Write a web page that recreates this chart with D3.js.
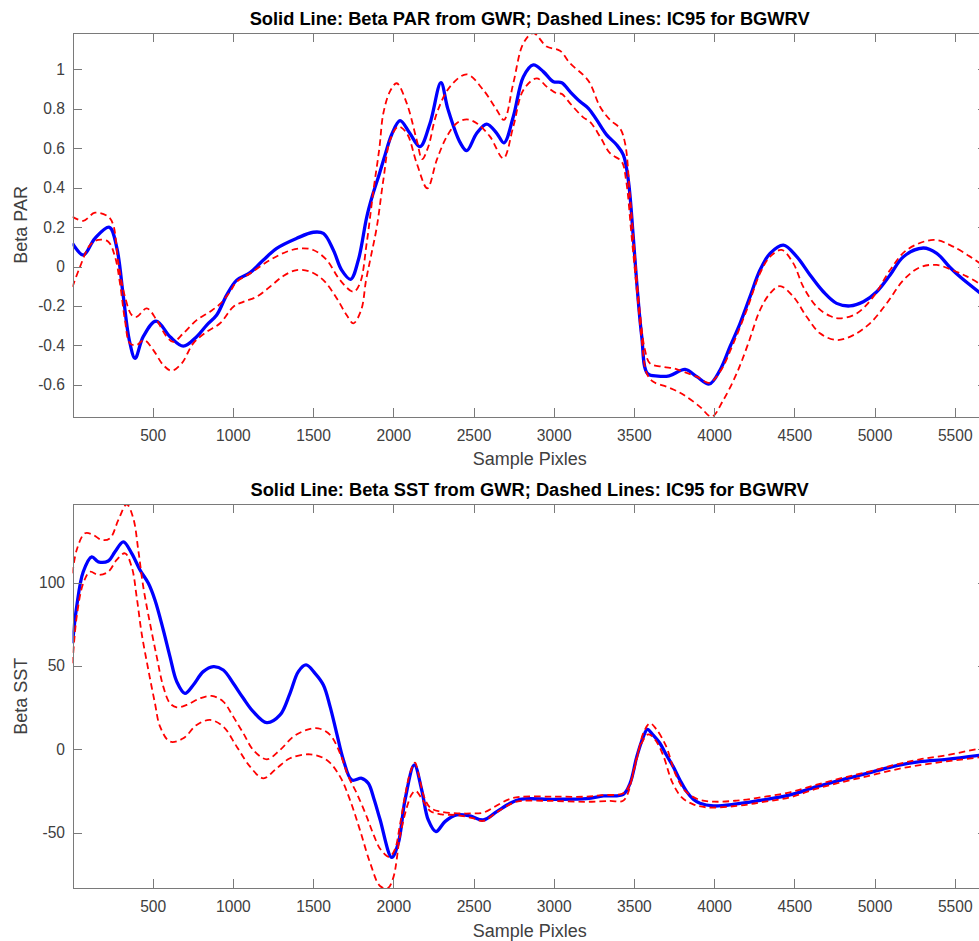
<!DOCTYPE html>
<html>
<head>
<meta charset="utf-8">
<script src="https://cdn.jsdelivr.net/npm/d3@7/dist/d3.min.js"></script>
<style>
  body { margin: 0; background: #fff; }
  text { font-family: "Liberation Sans", Arial, Helvetica, sans-serif; }
  .tick text { fill: #404040; font-size: 15.6px; }
  .axis path, .axis line { stroke: #7a7a7a; stroke-width: 1; shape-rendering: crispEdges; }
  .title { font-weight: bold; font-size: 18.3px; fill: #000; }
  .label { font-size: 18px; fill: #404040; }
</style>
</head>
<body>
<script>
// Two MATLAB style panels: GWR beta (solid) with the BGWRV 95% interval (dashed).

// x = sample pixel, y = value
var parBeta = [[0, 0.118], [67, 0.058], [140, 0.143], [230, 0.199], [275, 0.10], [317, -0.153],
    [354, -0.373], [390, -0.466], [441, -0.356], [521, -0.277], [608, -0.356], [691, -0.404],
    [774, -0.356], [837, -0.297], [899, -0.246], [961, -0.145], [1024, -0.069], [1107, -0.031],
    [1190, 0.033], [1273, 0.092], [1398, 0.143], [1501, 0.174], [1564, 0.168], [1626, 0.084],
    [1678, -0.018], [1734, -0.065], [1782, 0.033], [1834, 0.25], [1870, 0.36], [1913, 0.47],
    [1950, 0.57], [1990, 0.67], [2042, 0.74], [2100, 0.68], [2166, 0.608], [2229, 0.727],
    [2297, 0.933], [2340, 0.80], [2416, 0.63], [2458, 0.588], [2520, 0.676], [2582, 0.723],
    [2645, 0.676], [2690, 0.628], [2748, 0.760], [2811, 0.963], [2873, 1.023], [2935, 0.989],
    [2998, 0.938], [3050, 0.933], [3102, 0.887], [3164, 0.837], [3216, 0.803], [3268, 0.744],
    [3330, 0.668], [3393, 0.617], [3434, 0.566], [3465, 0.439], [3496, 0.151], [3518, -0.085],
    [3549, -0.356], [3584, -0.542], [3650, -0.556], [3720, -0.555], [3819, -0.522], [3892, -0.559],
    [3970, -0.596], [4037, -0.525], [4099, -0.407], [4162, -0.288], [4224, -0.153], [4286, -0.018],
    [4349, 0.067], [4432, 0.109], [4515, 0.050], [4598, -0.043], [4681, -0.128], [4764, -0.187],
    [4847, -0.200], [4930, -0.179], [5014, -0.128], [5097, -0.043], [5180, 0.050], [5304, 0.094],
    [5388, 0.067], [5471, -0.005], [5533, -0.052], [5660, -0.135]];

var parUpper = [[0, 0.253], [67, 0.232], [140, 0.273], [223, 0.253], [254, 0.211], [286, 0.016],
    [327, -0.153], [369, -0.246], [400, -0.255], [463, -0.212], [525, -0.272], [587, -0.356],
    [628, -0.382], [691, -0.339], [774, -0.272], [857, -0.229], [920, -0.190], [982, -0.128],
    [1024, -0.077], [1107, -0.035], [1231, 0.033], [1335, 0.075], [1418, 0.092], [1501, 0.084],
    [1585, 0.033], [1668, -0.069], [1751, -0.128], [1792, -0.085], [1834, 0.118], [1875, 0.38],
    [1913, 0.60], [1938, 0.778], [1980, 0.89], [2021, 0.930], [2084, 0.828], [2146, 0.642],
    [2180, 0.545], [2218, 0.608], [2271, 0.778], [2354, 0.913], [2458, 0.975], [2561, 0.896],
    [2645, 0.794], [2690, 0.744], [2748, 0.930], [2811, 1.133], [2873, 1.185], [2956, 1.116],
    [3039, 1.095], [3102, 1.031], [3184, 0.972], [3226, 0.930], [3289, 0.811], [3351, 0.744],
    [3413, 0.701], [3445, 0.625], [3476, 0.354], [3507, 0.050], [3538, -0.238], [3569, -0.424],
    [3600, -0.491], [3683, -0.509], [3750, -0.517], [3808, -0.534], [3892, -0.559], [3970, -0.590],
    [4037, -0.534], [4120, -0.390], [4203, -0.221], [4286, -0.035], [4349, 0.050], [4421, 0.084],
    [4494, 0.016], [4556, -0.103], [4640, -0.204], [4723, -0.251], [4785, -0.263], [4889, -0.238],
    [4993, -0.153], [5097, -0.018], [5201, 0.084], [5367, 0.135], [5491, 0.101], [5660, 0.015]];

var parLower = [[0, -0.103], [47, -0.001], [109, 0.109], [161, 0.135], [223, 0.126], [265, 0.050],
    [296, -0.085], [327, -0.272], [358, -0.390], [400, -0.398], [446, -0.373], [504, -0.424],
    [566, -0.500], [618, -0.529], [681, -0.491], [753, -0.390], [837, -0.331], [920, -0.288],
    [1003, -0.204], [1065, -0.179], [1148, -0.153], [1231, -0.103], [1314, -0.048], [1398, -0.018],
    [1481, -0.026], [1564, -0.069], [1647, -0.161], [1709, -0.246], [1751, -0.288], [1800, -0.22],
    [1830, -0.07], [1860, 0.05], [1897, 0.20], [1938, 0.44], [1980, 0.642], [2031, 0.710],
    [2084, 0.676], [2146, 0.524], [2212, 0.397], [2271, 0.541], [2333, 0.659], [2395, 0.727],
    [2458, 0.747], [2520, 0.727], [2603, 0.659], [2686, 0.549], [2748, 0.710], [2811, 0.896],
    [2894, 0.955], [2956, 0.913], [3019, 0.879], [3050, 0.876], [3102, 0.828], [3184, 0.757],
    [3226, 0.735], [3289, 0.659], [3351, 0.575], [3424, 0.532], [3451, 0.439], [3486, 0.151],
    [3518, -0.119], [3549, -0.373], [3580, -0.542], [3621, -0.585], [3704, -0.610], [3777, -0.636],
    [3829, -0.661], [3912, -0.712], [3985, -0.762], [4057, -0.678], [4141, -0.542], [4213, -0.390],
    [4286, -0.221], [4349, -0.136], [4411, -0.099], [4494, -0.153], [4577, -0.255], [4660, -0.339],
    [4764, -0.373], [4868, -0.348], [4972, -0.288], [5076, -0.187], [5180, -0.069], [5283, -0.004],
    [5388, 0.008], [5491, -0.020], [5575, -0.050], [5660, -0.090]];

var sstBeta = [[0, 63.6], [26, 85.6], [67, 106.5], [120, 115.5], [161, 112.5], [223, 113],
    [265, 118.5], [317, 124.5], [369, 117.6], [421, 107.6], [473, 99.6], [514, 89.6], [566, 71.6],
    [608, 55.5], [650, 40.6], [701, 33.6], [753, 38.6], [815, 46.6], [878, 49.6], [940, 47.6],
    [1002, 39.6], [1065, 30.6], [1127, 22.6], [1211, 16.0], [1294, 20.6], [1356, 33.6],
    [1408, 46.6], [1456, 50.6], [1512, 45.6], [1564, 38.6], [1606, 25.6], [1647, 9.6],
    [1689, -6.4], [1741, -18.4], [1803, -17.4], [1844, -20.4], [1880, -30], [1917, -42],
    [1990, -64.8], [2031, -56.4], [2073, -30.4], [2131, -9.4], [2177, -24.4], [2218, -42.4],
    [2266, -49.4], [2322, -43.4], [2395, -39.4], [2478, -40.0], [2561, -42.4], [2645, -37.4],
    [2728, -32.4], [2790, -30.0], [2998, -30.0], [3206, -29.6], [3310, -28.0], [3434, -27.0],
    [3476, -20.4], [3518, -4.4], [3559, 7.6], [3584, 12.0], [3620, 8.5], [3662, 3.6], [3700, -3],
    [3745, -10.4], [3790, -19], [3829, -25.4], [3870, -30], [3912, -32.4], [3995, -34],
    [4141, -32.8], [4307, -30.4], [4473, -27.4], [4640, -22.4], [4806, -18.0], [4972, -14.0],
    [5138, -9.8], [5283, -7.4], [5450, -6.0], [5660, -3.5]];

var sstUpper = [[0, 105.6], [26, 119.6], [78, 129.6], [130, 128.6], [182, 125.6], [234, 126.6],
    [286, 137.6], [338, 147], [379, 138.6], [410, 119.6], [441, 97.6], [483, 75.6], [525, 55.6],
    [566, 37.6], [608, 27.6], [650, 25.2], [712, 26.6], [795, 30.6], [868, 32.0], [940, 28.6],
    [1002, 19.6], [1065, 9.6], [1127, -0.4], [1211, -6.0], [1294, -0.4], [1377, 7.6],
    [1460, 11.6], [1532, 12.6], [1606, 8.6], [1668, -2.4], [1720, -16.4], [1772, -26.4],
    [1834, -40.4], [1880, -52], [1920, -60], [1975, -64.5], [2010, -60], [2042, -45], [2073, -28],
    [2105, -14], [2135, -8], [2160, -16], [2190, -28], [2230, -35], [2300, -37.5], [2400, -38.4],
    [2480, -38.5], [2560, -38], [2640, -34], [2720, -30], [2790, -28.5], [3000, -28.4],
    [3200, -28.4], [3300, -27.5], [3430, -26.5], [3470, -22], [3520, -5], [3560, 10], [3600, 15.6],
    [3640, 12], [3700, 2], [3760, -15], [3820, -25], [3900, -30], [4000, -31.4], [4141, -30.8],
    [4307, -28.6], [4473, -25.8], [4640, -21.2], [4806, -17.0], [4972, -13.2], [5138, -9.0],
    [5283, -6.0], [5450, -3.5], [5660, 0.6]];

var sstLower = [[0, 51.6], [26, 79.5], [67, 99.6], [109, 106.5], [161, 104.6], [223, 106.5],
    [275, 113.6], [327, 117.6], [369, 109.5], [400, 91.5], [431, 69.6], [473, 47.6], [514, 27.6],
    [546, 13.6], [608, 4.6], [691, 6.6], [774, 14.6], [857, 17.6], [940, 13.6], [1024, 1.6],
    [1107, -10.4], [1190, -17.4], [1273, -11.4], [1356, -5.4], [1481, -3.0], [1585, -6.4],
    [1668, -16.4], [1730, -30.4], [1792, -48.4], [1855, -68], [1917, -82], [1965, -83.4],
    [2000, -77], [2042, -52], [2084, -35], [2115, -27], [2140, -25], [2180, -30], [2230, -37],
    [2300, -39], [2400, -39.5], [2500, -41.5], [2560, -43], [2650, -37.5], [2750, -32], [2800, -31],
    [3000, -31], [3200, -31.5], [3350, -31], [3430, -31], [3460, -27], [3500, -12], [3540, 2],
    [3590, 9], [3630, 6], [3680, -3], [3740, -20], [3800, -29], [3870, -33], [3950, -34.8],
    [4141, -34], [4307, -31.6], [4473, -28.8], [4640, -23.6], [4806, -19.5], [4972, -15.8],
    [5138, -12], [5283, -9.5], [5450, -7.2], [5660, -4.8]];

var xTicks = [500, 1000, 1500, 2000, 2500, 3000, 3500, 4000, 4500, 5000, 5500];
var parTicks = [-0.6, -0.4, -0.2, 0, 0.2, 0.4, 0.6, 0.8, 1];
var sstTicks = [-50, 0, 50, 100];

var width = 979,
    height = 941,
    left = 72.5,
    right = 986.8,
    tickLen = 9;

var svg = d3.select('body').append('svg')
    .attr('width', width)
    .attr('height', height);

var x = d3.scaleLinear()
    .domain([0, 5700])
    .range([left, right]);

function drawPanel(id, top, bottom, yDomain, yTicks, series, title, yLabel) {
    var y = d3.scaleLinear().domain(yDomain).range([bottom, top]);
    var g = svg.append('g');

    g.append('clipPath')
        .attr('id', 'clip-' + id)
        .append('rect')
        .attr('x', left)
        .attr('y', top)
        .attr('width', right - left)
        .attr('height', bottom - top);

    var line = d3.line()
        .curve(d3.curveCatmullRom.alpha(0.5))
        .x(function(d) { return x(d[0]); })
        .y(function(d) { return y(d[1]); });

    var lines = g.append('g').attr('clip-path', 'url(#clip-' + id + ')');

    lines.append('path')
        .datum(series[0])
        .attr('d', line)
        .attr('fill', 'none')
        .attr('stroke', '#0000ff')
        .attr('stroke-width', 3.3)
        .attr('stroke-linejoin', 'round');

    [series[1], series[2]].forEach(function(s) {
        lines.append('path')
            .datum(s)
            .attr('d', line)
            .attr('fill', 'none')
            .attr('stroke', '#ff0000')
            .attr('stroke-width', 1.8)
            .attr('stroke-dasharray', '6.5,4');
    });

    // box with inward ticks on all four sides
    g.append('g')
        .classed('axis', true)
        .attr('transform', 'translate(0,' + bottom + ')')
        .call(d3.axisBottom(x).tickValues(xTicks).tickSizeInner(-tickLen).tickSizeOuter(0)
            .tickPadding(13).tickFormat(function(d) { return String(d); }));

    g.append('g')
        .classed('axis', true)
        .attr('transform', 'translate(0,' + top + ')')
        .call(d3.axisTop(x).tickValues(xTicks).tickSizeInner(-tickLen).tickSizeOuter(0)
            .tickFormat(''));

    g.append('g')
        .classed('axis', true)
        .attr('transform', 'translate(' + left + ',0)')
        .call(d3.axisLeft(y).tickValues(yTicks).tickSizeInner(-tickLen).tickSizeOuter(0)
            .tickPadding(7.5).tickFormat(function(d) { return String(d); }));

    g.append('g')
        .classed('axis', true)
        .attr('transform', 'translate(' + right + ',0)')
        .call(d3.axisRight(y).tickValues(yTicks).tickSizeInner(-tickLen).tickSizeOuter(0)
            .tickFormat(''));

    g.append('text')
        .classed('title', true)
        .attr('text-anchor', 'middle')
        .attr('x', (left + right) / 2)
        .attr('y', top - 8)
        .text(title);

    g.append('text')
        .classed('label', true)
        .attr('text-anchor', 'middle')
        .attr('x', (left + right) / 2)
        .attr('y', bottom + 48.7)
        .text('Sample Pixles');

    g.append('text')
        .classed('label', true)
        .attr('text-anchor', 'middle')
        .attr('transform', 'translate(26.7,' + (top + bottom) / 2 + ') rotate(-90)')
        .text(yLabel);
}

drawPanel('par', 33, 416.7, [-0.762, 1.185], parTicks, [parBeta, parUpper, parLower],
    'Solid Line: Beta PAR from GWR; Dashed Lines: IC95 for BGWRV', 'Beta PAR');

drawPanel('sst', 504.3, 888.3, [-83.4, 147], sstTicks, [sstBeta, sstUpper, sstLower],
    'Solid Line: Beta SST from GWR; Dashed Lines: IC95 for BGWRV', 'Beta SST');
</script>
</body>
</html>
